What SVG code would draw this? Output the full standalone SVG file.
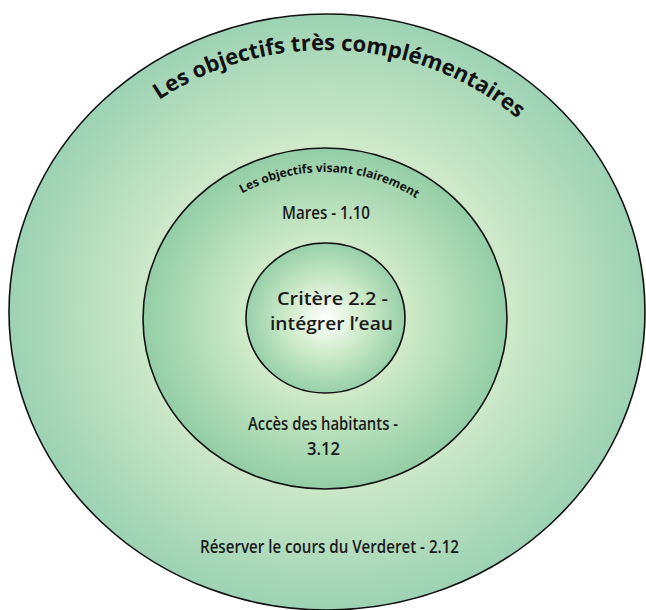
<svg xmlns="http://www.w3.org/2000/svg" width="646" height="610" viewBox="0 0 646 610">
  <defs>
    <radialGradient id="gOuter" cx="0.5" cy="0.5" r="0.5">
      <stop offset="0" stop-color="#ffffff"/>
      <stop offset="0.55" stop-color="#d0eaca"/>
      <stop offset="1" stop-color="#9cd2b3"/>
    </radialGradient>
    <radialGradient id="gMid" cx="0.5" cy="0.5" r="0.5">
      <stop offset="0" stop-color="#ffffff"/>
      <stop offset="0.45" stop-color="#cfeac8"/>
      <stop offset="1" stop-color="#93cea6"/>
    </radialGradient>
    <radialGradient id="gInner" cx="0.5" cy="0.5" r="0.5">
      <stop offset="0" stop-color="#ffffff"/>
      <stop offset="0.5" stop-color="#cdeac8"/>
      <stop offset="1" stop-color="#97d0a9"/>
    </radialGradient>
    <path id="arcOuter" d="M 42,312 A 284 262 0 0 1 610,312"/>
    <path id="arcMid" d="M 166,318.5 A 159 146.5 0 0 1 484,318.5"/>
  </defs>
  <style>
    .ring { stroke: #111; stroke-width: 1.6; }
    .lbl { font-family: "Open Sans", "Liberation Sans", sans-serif; font-weight: 600; fill: #1a1a1a; }
    .arc { font-family: "Open Sans", "Liberation Sans", sans-serif; font-weight: 700; fill: #111; }
  </style>
  <rect width="646" height="610" fill="#ffffff"/>

  <g id="outer">
    <ellipse class="ring" cx="327" cy="312" rx="318" ry="298" fill="url(#gOuter)"/>
    <text class="arc" font-size="22"><textPath href="#arcOuter" startOffset="51.8%" text-anchor="middle">Les objectifs très complémentaires</textPath></text>
    <text class="lbl" font-size="18" x="200" y="553" textLength="259" lengthAdjust="spacingAndGlyphs">Réserver le cours du Verderet - 2.12</text>
  </g>

  <g id="middle">
    <ellipse class="ring" cx="325" cy="318.5" rx="182" ry="170.5" fill="url(#gMid)"/>
    <text class="arc" font-size="12"><textPath href="#arcMid" startOffset="51%" text-anchor="middle">Les objectifs visant clairement</textPath></text>
    <text class="lbl" font-size="18" x="282" y="219" textLength="88" lengthAdjust="spacingAndGlyphs">Mares - 1.10</text>
    <text class="lbl" font-size="18" x="248" y="430" textLength="150" lengthAdjust="spacingAndGlyphs">Accès des habitants -</text>
    <text class="lbl" font-size="18" x="307" y="455" textLength="33" lengthAdjust="spacingAndGlyphs">3.12</text>
  </g>

  <g id="inner">
    <ellipse class="ring" cx="325.5" cy="318" rx="79.5" ry="75" fill="url(#gInner)"/>
    <text class="lbl" font-size="18.5" x="277" y="305" textLength="111" lengthAdjust="spacingAndGlyphs">Critère 2.2 -</text>
    <text class="lbl" font-size="18.5" x="270" y="330" textLength="123" lengthAdjust="spacingAndGlyphs">intégrer l’eau</text>
  </g>

  <g id="connectors"/>
</svg>
